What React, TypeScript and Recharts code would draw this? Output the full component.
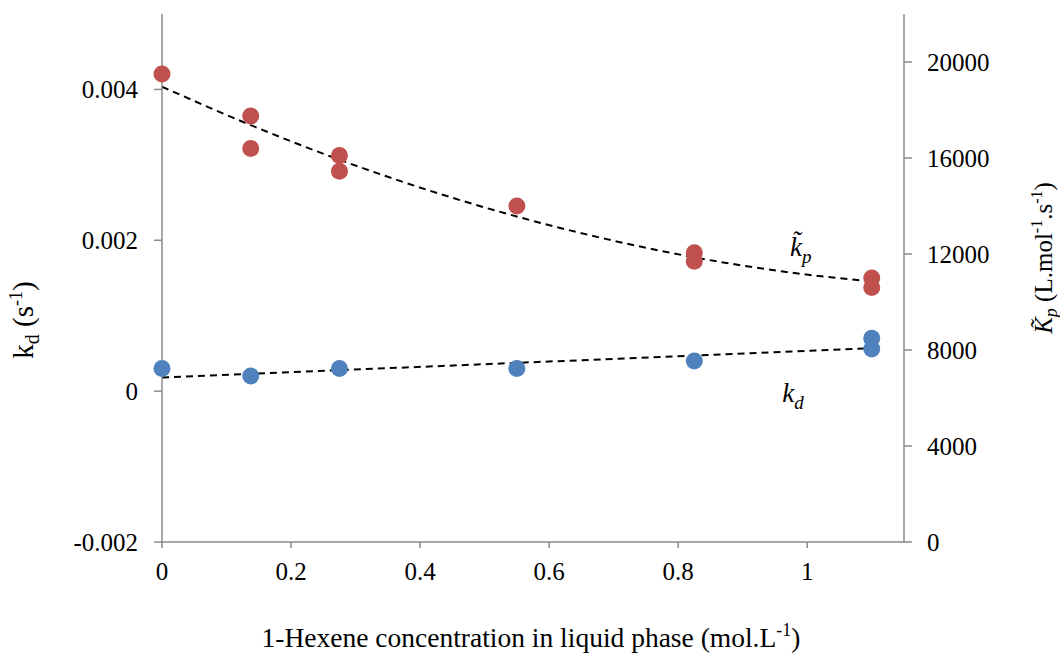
import {
  ComposedChart,
  XAxis,
  YAxis,
  Scatter,
  Line,
  ReferenceDot,
} from "recharts";

// measured points
const CONC_KP = [0, 0.1375, 0.1375, 0.275, 0.275, 0.55, 0.825, 0.825, 1.1, 1.1];
const KP_VALUES = [19500, 17750, 16400, 16100, 15450, 14000, 12050, 11700, 11000, 10600];
const CONC_KD = [0, 0.1375, 0.275, 0.55, 0.825, 1.1, 1.1];
const KD_VALUES = [0.0003, 0.0002, 0.0003, 0.0003, 0.0004, 0.0007, 0.00056];

// dashed trend lines
const KP_FIT_CONC = [0, 0.1375, 0.275, 0.4125, 0.55, 0.6875, 0.825, 0.9625, 1.1];
const KP_FIT = [18970, 17370, 15930, 14660, 13560, 12630, 11860, 11270, 10850];
const KD_FIT_CONC = [0, 0.55, 1.1];
const KD_FIT = [0.00018, 0.000375, 0.00057];

const X_TICKS = [0, 0.2, 0.4, 0.6, 0.8, 1];
const KD_TICKS = [-0.002, 0, 0.002, 0.004];
const KP_TICKS = [0, 4000, 8000, 12000, 16000, 20000];

const FONT = "Liberation Serif, Times New Roman, serif";
const AXIS = "#8a8a8a";
const RED = "#C0504D";
const BLUE = "#4F81BD";

const zip = (xs: number[], ys: number[]) => xs.map((x, i) => ({ x, y: ys[i] }));

const kpPoints = zip(CONC_KP, KP_VALUES);
const kdPoints = zip(CONC_KD, KD_VALUES);
const kpFit = zip(KP_FIT_CONC, KP_FIT);
const kdFit = zip(KD_FIT_CONC, KD_FIT);

const dot = (color: string) => (p: any) =>
  <circle cx={p.cx} cy={p.cy} r={8.5} fill={color} />;

const makeTick = (anchor: "start" | "middle" | "end", dy: string) => (p: any) => (
  <text
    x={p.x}
    y={p.y}
    dy={dy}
    textAnchor={anchor}
    fontFamily={FONT}
    fontSize={25}
    fill="#000"
    style={{ fontFamily: FONT }}
  >
    {String(p.payload.value)}
  </text>
);

const XTick = makeTick("middle", "0.71em");
const LeftTick = makeTick("end", "0.355em");
const RightTick = makeTick("start", "0.355em");

const XTitle = ({ viewBox }: any) => (
  <text
    x={viewBox.x + viewBox.width / 2 - 2}
    y={viewBox.y + 105}
    textAnchor="middle"
    fontFamily={FONT}
    fontSize={27.5}
    fill="#000"
    style={{ fontFamily: FONT }}
  >
    1-Hexene concentration in liquid phase (mol.L
    <tspan dy={-11} fontSize={18}>-1</tspan>
    <tspan dy={11}>)</tspan>
  </text>
);

const LeftTitle = ({ viewBox }: any) => {
  const cx = 33;
  const cy = viewBox.y + viewBox.height / 2 + 42;
  return (
    <text
      transform={`translate(${cx},${cy}) rotate(-90)`}
      textAnchor="middle"
      fontFamily={FONT}
      fontSize={29}
      fill="#000"
      style={{ fontFamily: FONT }}
    >
      k
      <tspan dy={6} fontSize={20}>d</tspan>
      <tspan dy={-6}> (s</tspan>
      <tspan dy={-11} fontSize={18}>-1</tspan>
      <tspan dy={11}>)</tspan>
    </text>
  );
};

const RightTitle = ({ viewBox }: any) => {
  const cx = 1052;
  const cy = viewBox.y + viewBox.height / 2 - 20;
  return (
    <text
      transform={`translate(${cx},${cy}) rotate(-90)`}
      textAnchor="middle"
      fontFamily={FONT}
      fontSize={25}
      fill="#000"
      style={{ fontFamily: FONT }}
    >
      <tspan fontStyle="italic">K̃</tspan>
      <tspan dy={5} fontSize={18} fontStyle="italic">p</tspan>
      <tspan dy={-5}> (L.mol</tspan>
      <tspan dy={-10} fontSize={16}>-1</tspan>
      <tspan dy={10}>.s</tspan>
      <tspan dy={-10} fontSize={16}>-1</tspan>
      <tspan dy={10}>)</tspan>
    </text>
  );
};

const mathLabel = (base: string, sub: string) => ({ viewBox }: any) => (
  <text
    x={viewBox.x}
    y={viewBox.y}
    textAnchor="middle"
    fontFamily={FONT}
    fontStyle="italic"
    fontSize={27}
    fill="#000"
    style={{ fontFamily: FONT }}
  >
    {base}
    <tspan dy={7} fontSize={19}>{sub}</tspan>
  </text>
);

export default function App() {
  return (
    <div
      style={{
        position: "absolute",
        left: 0,
        top: 0,
        background: "#fff",
        fontFamily: FONT,
      }}
    >
      <ComposedChart
        width={1060}
        height={654}
        margin={{ top: 14, right: 0, bottom: 0, left: 0 }}
      >
        <XAxis
          type="number"
          dataKey="x"
          domain={[0, 1.15]}
          ticks={X_TICKS}
          height={112}
          axisLine={{ stroke: AXIS, strokeWidth: 1.5 }}
          tickLine={{ stroke: AXIS, strokeWidth: 1.5 }}
          tickSize={6}
          tickMargin={14}
          tick={XTick}
          label={{ content: XTitle }}
        />
        <YAxis
          yAxisId="left"
          type="number"
          domain={[-0.002, 0.005]}
          ticks={KD_TICKS}
          width={162}
          axisLine={{ stroke: AXIS, strokeWidth: 1.5 }}
          tickLine={{ stroke: AXIS, strokeWidth: 1.5 }}
          tickSize={8}
          tickMargin={16}
          tick={LeftTick}
          label={{ content: LeftTitle }}
        />
        <YAxis
          yAxisId="right"
          orientation="right"
          type="number"
          domain={[0, 22000]}
          ticks={KP_TICKS}
          width={156}
          axisLine={{ stroke: AXIS, strokeWidth: 1.5 }}
          tickLine={{ stroke: AXIS, strokeWidth: 1.5 }}
          tickSize={8}
          tickMargin={15}
          tick={RightTick}
          label={{ content: RightTitle }}
        />

        <Scatter
          yAxisId="right"
          data={kpPoints}
          dataKey="y"
          shape={dot(RED)}
          isAnimationActive={false}
        />
        <Scatter
          yAxisId="left"
          data={kdPoints}
          dataKey="y"
          shape={dot(BLUE)}
          isAnimationActive={false}
        />

        <Line
          yAxisId="right"
          data={kpFit}
          dataKey="y"
          type="monotone"
          stroke="#000"
          strokeWidth={2}
          strokeDasharray="7 5"
          dot={false}
          activeDot={false}
          isAnimationActive={false}
        />
        <Line
          yAxisId="left"
          data={kdFit}
          dataKey="y"
          type="monotone"
          stroke="#000"
          strokeWidth={2}
          strokeDasharray="7 5"
          dot={false}
          activeDot={false}
          isAnimationActive={false}
        />

        <ReferenceDot
          yAxisId="right"
          x={0.99}
          y={11930}
          r={0}
          fill="none"
          stroke="none"
          ifOverflow="visible"
          label={{ content: mathLabel("k̃", "p") }}
        />
        <ReferenceDot
          yAxisId="left"
          x={0.978}
          y={-0.00015}
          r={0}
          fill="none"
          stroke="none"
          ifOverflow="visible"
          label={{ content: mathLabel("k", "d") }}
        />
      </ComposedChart>
    </div>
  );
}
